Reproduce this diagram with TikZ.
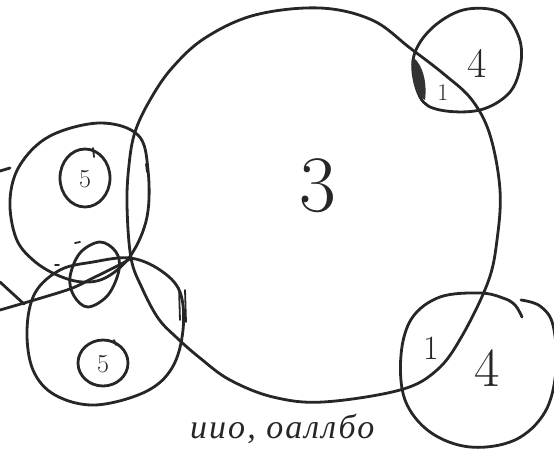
\documentclass[tikz,border=0pt]{standalone}
\usepackage{fontspec}
\newfontfamily\cyr[LetterSpace=6]{Liberation Serif}
\begin{document}
\begin{tikzpicture}[x=1pt,y=-1pt,
  ink/.style={draw=black!85, line width=2.8pt, line cap=round, line join=round},
  thin/.style={draw=black!85, line width=1.8pt, line cap=round},
  lbl/.style={inner sep=0pt, text=black!85}]
\useasboundingbox (0,0) rectangle (554,450);
\clip (0,0) rectangle (554,450);
\fill[white] (0,0) rectangle (554,450);

% big circle (3)
\draw[ink] plot[smooth cycle, tension=0.6] coordinates {
 (320,8) (372,20) (410,48) (445,75) (472,100) (490,135) (500,190)
 (497,240) (488,282) (462,336) (437,370) (400,390) (323,402) (273,397)
 (230,380) (200,358) (176,337) (158,318) (142,288) (131,258) (127,205)
 (129,165) (135,132) (150,100) (172,68) (205,38) (255,15)};

% upper-right circle (4)
\draw[ink] plot[smooth cycle, tension=0.6] coordinates {
 (413,60) (430,30) (463,10) (500,12) (518,35) (521,62) (510,92)
 (480,110) (440,110) (420,97)};
\fill[black!80] (413,57) .. controls (424,66) and (427,85) .. (425,100)
  .. controls (416,96) and (410,80) .. (413,57) -- cycle;

% bottom-right circle (4)
\draw[ink] plot[smooth, tension=0.6] coordinates {
 (522,317) (515,305) (503,298) (480,293) (440,297) (412,318) (401,355)
 (405,400) (430,432) (470,447) (515,440) (545,412) (556,370) (553,325)
 (540,306) (521,300)};

% upper-left circle (5)
\draw[ink] plot[smooth cycle, tension=0.6] coordinates {
 (10,200) (20,165) (50,136) (100,123) (138,135) (148,170) (147,217)
 (131,255) (107,277) (83,282) (57,275) (33,260) (16,238)};
\draw[ink] (85,178) ellipse[x radius=25, y radius=29];
\draw[thin] (93,148) -- (94,157);

% lower-left circle (5)
\draw[ink] plot[smooth cycle, tension=0.6] coordinates {
 (60,270) (93,262) (130,258) (160,270) (180,292) (183,330) (172,368)
 (145,392) (95,405) (55,395) (33,370) (27,330) (35,293)};
\draw[ink] (103,363) ellipse[x radius=25, y radius=23];
\draw[thin] (114,340) -- (116,345);

% small oval
\draw[ink] plot[smooth cycle, tension=0.6] coordinates {
 (100,242) (116,252) (119,270) (108,295) (88,307) (74,296) (70,277) (80,253)};

% tail line and strokes
\draw[ink] plot[smooth, tension=0.5] coordinates {(0,310) (67,290) (93,278) (123,263) (131,258)};
\draw[ink] (0,282) -- (24,304);
\draw[ink] (0,171) -- (10,168);
\draw[thin] (179,288) -- (180,320);
\draw[thin] (185,290) -- (186,322);
\draw[thin] (146,164) -- (147,172);
\draw[thin] (75,243) -- (80,242);
\draw[thin] (55,265) -- (59,265);

% labels
\node[lbl] (three) at (318,186) {\fontsize{80}{80}\selectfont 3};
\node[lbl] (fourA) at (477,63) {\fontsize{42}{42}\selectfont 4};
\node[lbl] (oneA) at (443,93) {\fontsize{24}{24}\selectfont 1};
\node[lbl] (oneB) at (431,348) {\fontsize{34}{34}\selectfont 1};
\node[lbl] (fourB) at (487,368) {\fontsize{55}{55}\selectfont 4};
\node[lbl] (fiveA) at (85,179) {\fontsize{26}{26}\selectfont 5};
\node[lbl] (fiveB) at (103,364) {\fontsize{26}{26}\selectfont 5};
\node[lbl, anchor=base west] (txt) at (190,438) {\cyr\itshape\fontsize{34}{34}\selectfont иио, оаллбо};
\end{tikzpicture}
\end{document}
